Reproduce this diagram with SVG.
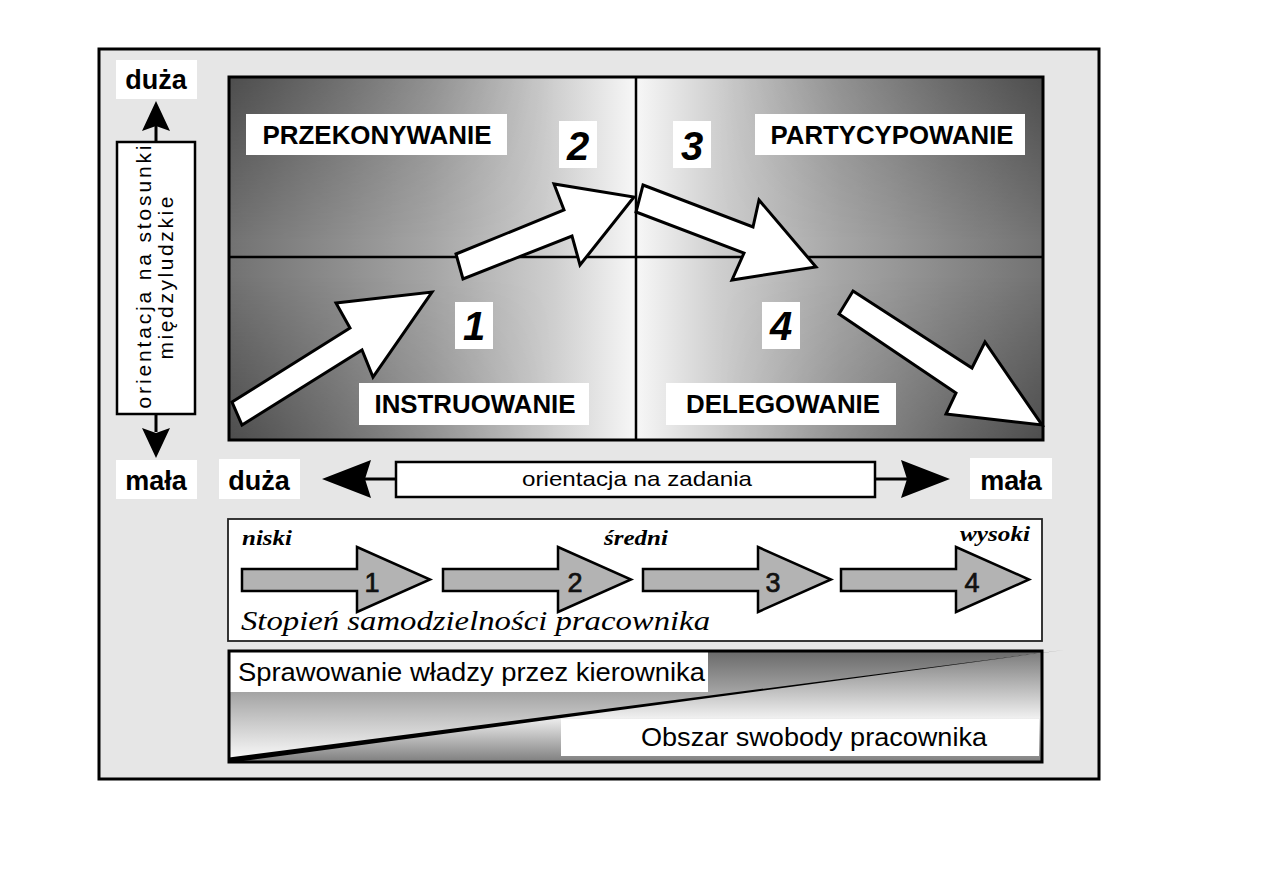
<svg xmlns="http://www.w3.org/2000/svg" width="1263" height="893" viewBox="0 0 1263 893">
<defs>
<style>
.sans{font-family:"Liberation Sans",Arial,sans-serif}
.lbl{font-family:"Liberation Sans",Arial,sans-serif;font-weight:bold;font-size:26px;text-anchor:middle;fill:#000}
.num{font-family:"Liberation Sans",Arial,sans-serif;font-weight:bold;font-style:italic;font-size:40px;text-anchor:middle;fill:#000}
.side{font-family:"Liberation Sans",Arial,sans-serif;font-weight:bold;font-size:27px;text-anchor:middle;fill:#000}
.wb{fill:#fff}
.bigarrow{fill:#fff;stroke:#000;stroke-width:3;stroke-linejoin:miter}
.stage{fill:#b3b3b3;stroke:#000;stroke-width:2.5}
.stnum{font-family:"Liberation Sans",Arial,sans-serif;font-size:27px;text-anchor:middle;fill:#111;stroke:#111;stroke-width:0.7}
.lvl{font-family:"Liberation Serif","Times New Roman",serif;font-style:italic;font-weight:bold;font-size:21px;fill:#000}
.blk{fill:#000}
.conn{stroke:#000;stroke-width:3}
</style>
<linearGradient id="hg" x1="0" y1="0" x2="1" y2="0">
<stop offset="0" stop-color="#727272"/>
<stop offset="0.12" stop-color="#8a8a8a"/>
<stop offset="0.25" stop-color="#a6a6a6"/>
<stop offset="0.4" stop-color="#cfcfcf"/>
<stop offset="0.5" stop-color="#f7f7f7"/>
<stop offset="0.6" stop-color="#cfcfcf"/>
<stop offset="0.75" stop-color="#a6a6a6"/>
<stop offset="0.88" stop-color="#8a8a8a"/>
<stop offset="1" stop-color="#727272"/>
</linearGradient>
<linearGradient id="vg" x1="0" y1="0" x2="0" y2="1">
<stop offset="0" stop-color="#000" stop-opacity="0.32"/>
<stop offset="0.45" stop-color="#000" stop-opacity="0"/>
<stop offset="0.55" stop-color="#000" stop-opacity="0"/>
<stop offset="1" stop-color="#000" stop-opacity="0.32"/>
</linearGradient>
<linearGradient id="mg" x1="0" y1="0" x2="1" y2="0">
<stop offset="0" stop-color="#fff"/>
<stop offset="0.4" stop-color="#000"/>
<stop offset="0.6" stop-color="#000"/>
<stop offset="1" stop-color="#fff"/>
</linearGradient>
<mask id="cornerMask" maskUnits="userSpaceOnUse" x="229" y="77" width="814" height="363">
<rect x="229" y="77" width="814" height="363" fill="url(#mg)"/>
</mask>
<linearGradient id="upperTri" gradientUnits="userSpaceOnUse" x1="0" y1="651" x2="0" y2="762">
<stop offset="0" stop-color="#6a6a6a"/>
<stop offset="0.4" stop-color="#a8a8a8"/>
<stop offset="1" stop-color="#fcfcfc"/>
</linearGradient>
<linearGradient id="lowerTri" gradientUnits="userSpaceOnUse" x1="0" y1="651" x2="0" y2="762">
<stop offset="0" stop-color="#7a7a7a"/>
<stop offset="0.6" stop-color="#efefef"/>
<stop offset="1" stop-color="#7e7e7e"/>
</linearGradient>
<path id="stageArrow" d="M0,569 H115 V547 L188,579.5 L115,612 V591 H0 Z"/>
</defs>

<!-- outer frame -->
<rect x="99" y="49" width="1000" height="730" fill="#e6e6e6" stroke="#000" stroke-width="3"/>

<!-- quadrant field -->
<g id="quadrants">
<rect x="229" y="77" width="814" height="363" fill="url(#hg)"/>
<rect x="229" y="77" width="814" height="363" fill="url(#vg)" mask="url(#cornerMask)"/>
<line x1="636" y1="77" x2="636" y2="440" stroke="#000" stroke-width="2.5"/>
<line x1="229" y1="257" x2="1043" y2="257" stroke="#000" stroke-width="2.5"/>
<rect x="229" y="77" width="814" height="363" fill="none" stroke="#000" stroke-width="3"/>
</g>

<g id="connectors">
<!-- vertical axis arrows -->
<line class="conn" x1="156" y1="126" x2="156" y2="143"/>
<polygon class="blk" points="156,101 170,131 156,126 142,131"/>
<line class="conn" x1="156" y1="413" x2="156" y2="432"/>
<polygon class="blk" points="156,458 170,428 156,433 142,428"/>
<!-- horizontal axis arrows -->
<line class="conn" x1="365" y1="479" x2="396" y2="479"/>
<polygon class="blk" points="322,479 371,460 365,479 371,498"/>
<line class="conn" x1="874" y1="479" x2="907" y2="479"/>
<polygon class="blk" points="950,479 901,460 907,479 901,498"/>
<!-- quadrant arrows -->
<polygon class="bigarrow" points="232,402 350,328 336,303 432,292 373,377 362,350 242,425"/>
<polygon class="bigarrow" points="456,254 564,210 554,184 634,197 580,265 572,236 463,279"/>
<polygon class="bigarrow" points="643,185 753,227 759,200 816,267 732,280 744,253 636,212"/>
<polygon class="bigarrow" points="853,291 972,368 985,342 1042,425 946,414 956,393 839,314"/>
</g>

<!-- axis labels -->
<g id="axis-y">
<rect x="117" y="142" width="78" height="272" fill="#fff" stroke="#000" stroke-width="2.5"/>
<text class="sans" font-size="21" text-anchor="middle" transform="translate(151,277) rotate(-90)" textLength="263" lengthAdjust="spacing">orientacja na stosunki</text>
<text class="sans" font-size="21" text-anchor="middle" transform="translate(173,278) rotate(-90)" textLength="163" lengthAdjust="spacing">międzyludzkie</text>
</g>
<g id="y-high">
<rect class="wb" x="116" y="60" width="81" height="39"/>
<text class="side" x="156" y="89">duża</text>
</g>
<g id="y-low">
<rect class="wb" x="116" y="460" width="81" height="39"/>
<text class="side" x="156" y="490">mała</text>
</g>
<g id="x-high">
<rect class="wb" x="219" y="459" width="81" height="40"/>
<text class="side" x="259" y="490">duża</text>
</g>
<g id="x-low">
<rect class="wb" x="970" y="458" width="82" height="41"/>
<text class="side" x="1011" y="490">mała</text>
</g>
<g id="axis-x">
<rect x="396" y="462" width="479" height="35" fill="#fff" stroke="#000" stroke-width="2.5"/>
<text class="sans" font-size="21" x="522" y="486" textLength="230" lengthAdjust="spacingAndGlyphs">orientacja na zadania</text>
</g>

<!-- quadrant labels -->
<g id="przekonywanie">
<rect class="wb" x="246" y="114" width="261" height="41"/>
<text class="lbl" x="377" y="144" textLength="229" lengthAdjust="spacingAndGlyphs">PRZEKONYWANIE</text>
</g>
<g id="partycypowanie">
<rect class="wb" x="755" y="114" width="270" height="41"/>
<text class="lbl" x="892" y="144" textLength="243" lengthAdjust="spacingAndGlyphs">PARTYCYPOWANIE</text>
</g>
<g id="instruowanie">
<rect class="wb" x="359" y="383" width="230" height="42"/>
<text class="lbl" x="475" y="413" textLength="201" lengthAdjust="spacingAndGlyphs">INSTRUOWANIE</text>
</g>
<g id="delegowanie">
<rect class="wb" x="666" y="383" width="230" height="42"/>
<text class="lbl" x="783" y="413" textLength="194" lengthAdjust="spacingAndGlyphs">DELEGOWANIE</text>
</g>
<g id="n1"><rect class="wb" x="455" y="302" width="38" height="47"/><text class="num" x="474" y="340">1</text></g>
<g id="n2"><rect class="wb" x="559" y="121" width="38" height="47"/><text class="num" x="578" y="160">2</text></g>
<g id="n3"><rect class="wb" x="673" y="121" width="38" height="47"/><text class="num" x="692" y="160">3</text></g>
<g id="n4"><rect class="wb" x="762" y="302" width="38" height="47"/><text class="num" x="781" y="340">4</text></g>

<!-- stages box -->
<g id="stages">
<rect x="228" y="519" width="814" height="122" fill="#fff" stroke="#222" stroke-width="1.8"/>
<text class="lvl" x="242" y="545" textLength="50" lengthAdjust="spacingAndGlyphs">niski</text>
<text class="lvl" x="604" y="545" textLength="64" lengthAdjust="spacingAndGlyphs">średni</text>
<text class="lvl" x="960" y="541" textLength="70" lengthAdjust="spacingAndGlyphs">wysoki</text>
<g id="stage1"><use href="#stageArrow" class="stage" x="242"/><text class="stnum" x="372" y="592">1</text></g>
<g id="stage2"><use href="#stageArrow" class="stage" x="443"/><text class="stnum" x="575" y="592">2</text></g>
<g id="stage3"><use href="#stageArrow" class="stage" x="643"/><text class="stnum" x="773" y="592">3</text></g>
<g id="stage4"><use href="#stageArrow" class="stage" x="841"/><text class="stnum" x="972" y="592">4</text></g>
<text x="241" y="630" font-family="Liberation Serif, Times New Roman, serif" font-style="italic" font-size="27" textLength="469" lengthAdjust="spacingAndGlyphs">Stopień samodzielności pracownika</text>
</g>

<!-- authority / freedom box -->
<g id="authority">
<polygon points="229,651 1042,651 1042,653 229,760" fill="url(#upperTri)"/>
<polygon points="229,760 1042,653 1042,762 229,762" fill="url(#lowerTri)"/>
<rect class="wb" x="230" y="652" width="478" height="40"/>
<rect class="wb" x="561" y="719" width="478" height="37"/>
<text class="sans" font-size="26" x="238" y="681" textLength="467" lengthAdjust="spacingAndGlyphs">Sprawowanie władzy przez kierownika</text>
<text class="sans" font-size="26" x="641" y="746" textLength="346" lengthAdjust="spacingAndGlyphs">Obszar swobody pracownika</text>
<rect x="229" y="651" width="813" height="111" fill="none" stroke="#000" stroke-width="3"/>
<polygon class="blk" points="229,757.5 1064,650 229,763"/>
</g>
</svg>
